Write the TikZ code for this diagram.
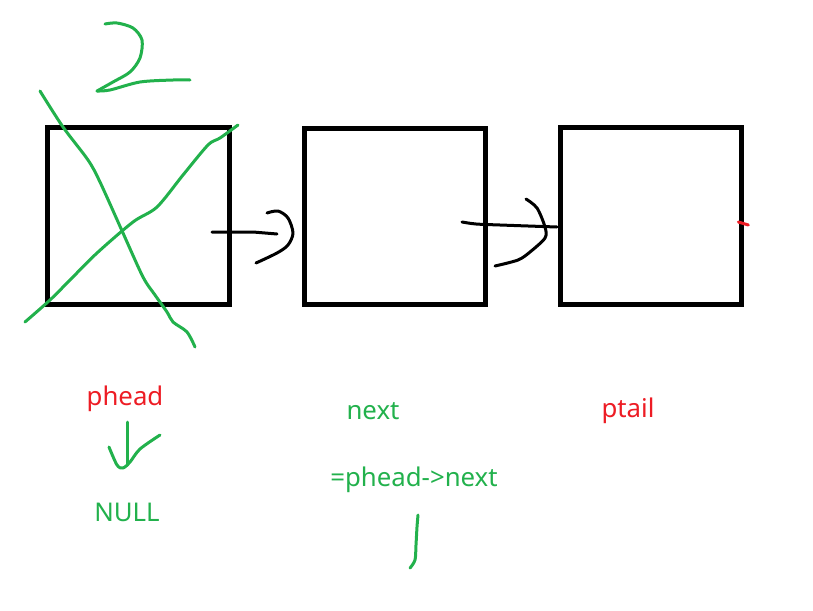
\documentclass[tikz,border=0pt]{standalone}
\usepackage{fontspec}
\setmainfont{Noto Sans}
\usetikzlibrary{positioning, calc}
\definecolor{pengreen}{RGB}{34,177,76}
\definecolor{penred}{RGB}{237,28,36}

\begin{document}
\begin{tikzpicture}[
    x=0.03cm,y=-0.03cm,
    cell/.style={draw, line width=0.15cm, rectangle, minimum width=5.45cm, minimum height=5.3cm, inner sep=0pt},
    redlabel/.style={text=penred, font=\fontsize{22}{26}\selectfont},
    greenlabel/.style={text=pengreen, font=\fontsize{22}{26}\selectfont},
    pen/.style={line width=0.09cm, line cap=round, line join=round},
    greenpen/.style={pen, draw=pengreen},
    blackpen/.style={pen, draw=black}
]
    \useasboundingbox (0,0) rectangle (813,610);

    % --- List cells ---
    \node[cell] (first) at (138.5,216) {};
    \node[cell] (second) at (395,216.5) {};
    \node[cell] (third) at (651,216) {};

    % --- Labels ---
    \node[redlabel] (phead) at (125,399) {phead};
    \node[greenlabel] (null) at (127,512) {NULL};
    \node[greenlabel] (next) at (373,411) {next};
    \node[greenlabel] (nextdef) at (414,480) {=phead->next};
    \node[redlabel] (ptail) at (628,411) {ptail};

    % --- Links between cells ---
    \coordinate (linkA) at (212,232);
    \coordinate (linkB) at (462,222);
    \draw[blackpen] (linkA) -- (253,232) -- (277,234);
    \draw[blackpen] plot[smooth] coordinates {(267,213) (278,211) (288,218) (293,233) (288,245) (277,253) (256,263)};
    \draw[blackpen] plot[smooth] coordinates {(linkB) (476,224) (500,225) (557,227)};
    \draw[blackpen] plot[smooth] coordinates {(526,199) (537,208) (545,227) (545,238) (530,252) (518,260) (495,266)};

    % --- Tail mark ---
    \draw[pen, draw=penred] ($(third.east)+(-6,6)$) -- ++(10,3);

    % --- Freed head: crossed out ---
    \draw[greenpen] plot[smooth] coordinates {(40,91) (63,127) (88,160) (100,182) (123,233) (143,277) (155,295) (167,312) (173,322) (187,332) (195,347)};
    \draw[greenpen] plot[smooth] coordinates {(25,322) (50,300) (70,280) (97,253) (133,222) (157,207) (183,175) (208,145) (220,138) (238,125)};
    \draw[greenpen] plot[smooth] coordinates {(105,24) (117,23) (133,28) (142,40) (140,58) (130,72) (113,82) (97,91)};
    \draw[greenpen] plot[smooth] coordinates {(97,91) (110,90) (140,82) (173,80) (190,80)};

    % --- phead becomes NULL ---
    \draw[greenpen] (127,422) -- (127,465);
    \draw[greenpen] plot[smooth] coordinates {(109,447) (117,465) (123,468) (130,462) (140,449) (160,435)};

    % --- Next pointer mark ---
    \draw[greenpen] plot[smooth] coordinates {(418,515) (417,527) (416,545) (415,560) (410,568)};

\end{tikzpicture}
\end{document}
